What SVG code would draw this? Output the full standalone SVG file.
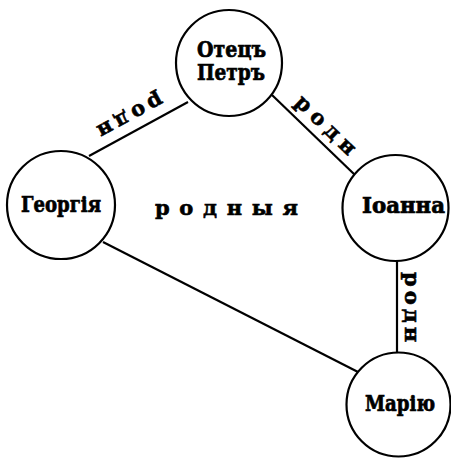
<svg xmlns="http://www.w3.org/2000/svg" width="451" height="460" viewBox="0 0 451 460">
<style>
.node circle{fill:#fff;stroke:#000;stroke-width:2.2}
.name{font-family:"DejaVu Serif","Liberation Serif",serif;font-weight:bold;font-size:22px;fill:#000;stroke:#000;stroke-width:0.7}
.lbl{font-family:"DejaVu Serif","Liberation Serif",serif;font-weight:bold;font-size:21px;fill:#000;stroke:#000;stroke-width:0.6}
#connectors line{stroke:#000;stroke-width:2.2}
</style>
<rect width="451" height="460" fill="#fff"/>
<g id="connectors">
<line x1="188" y1="102" x2="89" y2="156"/>
<line x1="272" y1="95" x2="355" y2="175"/>
<line x1="103" y1="242" x2="360" y2="373"/>
<line x1="397" y1="261" x2="397" y2="352"/>
<text class="lbl" transform="translate(127,110) rotate(151.4)" text-anchor="middle" textLength="72" lengthAdjust="spacing">родн</text>
<text class="lbl" transform="translate(321,130) rotate(44)" text-anchor="middle" textLength="76" lengthAdjust="spacing">родн</text>
<text class="lbl" transform="translate(405,307) rotate(90)" text-anchor="middle" textLength="70" lengthAdjust="spacing">родн</text>
<text class="lbl" x="155" y="215" textLength="143" lengthAdjust="spacing">родныя</text>
</g>
<g id="node-otets-petr" class="node">
<circle cx="229" cy="63" r="53"/>
<text class="name"><tspan x="197" y="57" textLength="69" lengthAdjust="spacingAndGlyphs">Отецъ</tspan><tspan x="197" y="80" textLength="68" lengthAdjust="spacingAndGlyphs">Петръ</tspan></text>
</g>
<g id="node-georgiya" class="node">
<circle cx="61" cy="205" r="54"/>
<text class="name" x="21" y="212" textLength="80" lengthAdjust="spacingAndGlyphs">Георгія</text>
</g>
<g id="node-ioanna" class="node">
<circle cx="395.5" cy="208" r="53"/>
<text class="name" x="362" y="213" textLength="83" lengthAdjust="spacingAndGlyphs">Іоанна</text>
</g>
<g id="node-mariyu" class="node">
<circle cx="398.5" cy="404.5" r="52"/>
<text class="name" x="365" y="411" textLength="70" lengthAdjust="spacingAndGlyphs">Марію</text>
</g>
</svg>
